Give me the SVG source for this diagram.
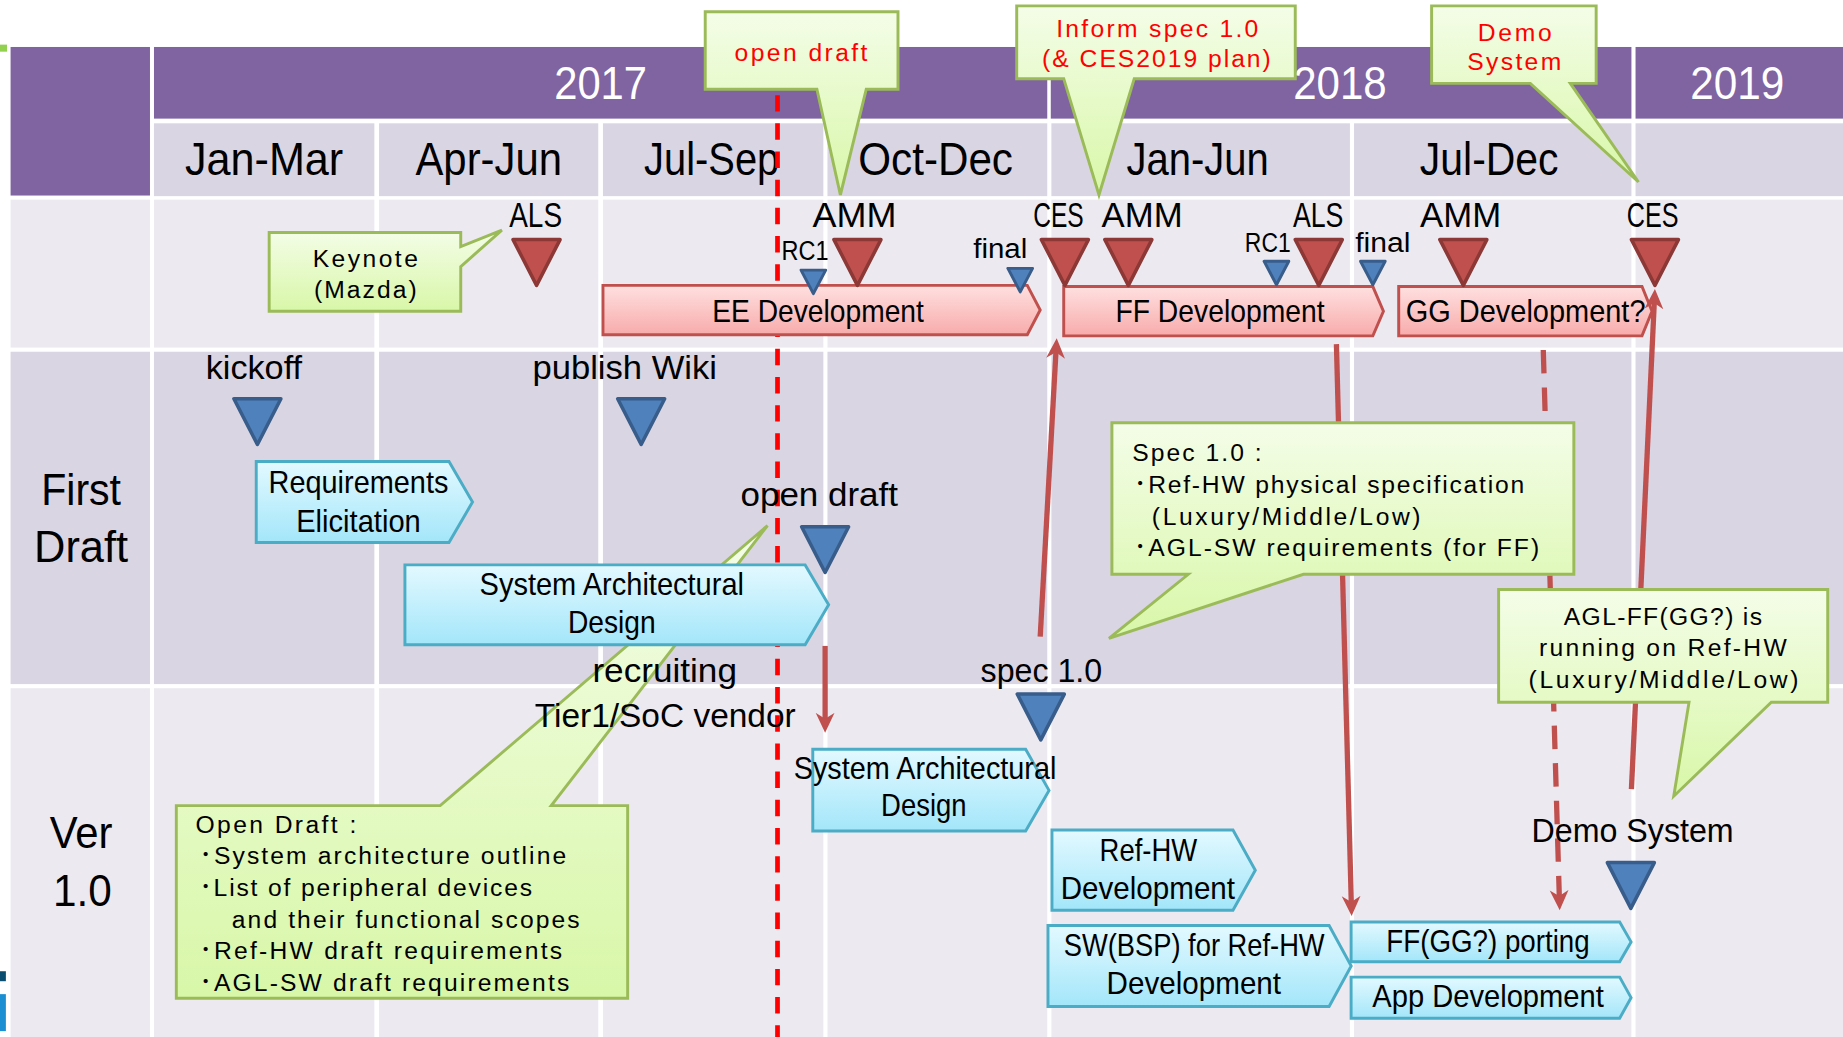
<svg xmlns="http://www.w3.org/2000/svg" xmlns:xlink="http://www.w3.org/1999/xlink" width="1843" height="1037" viewBox="0 0 1843 1037">
<defs>
<style>
text{font-family:"Liberation Sans","Noto Sans CJK JP",sans-serif;fill:#000}
.hdr{fill:#8064A2}
.cd{fill:#D9D5E3}
.cl{fill:#ECEAF0}
.yr{font-size:39px;fill:#fff;text-anchor:middle}
.q{font-size:39px;text-anchor:middle}
.rl{font-size:38px;text-anchor:middle}
.ms{font-size:30px;text-anchor:middle}
.sm{font-size:24px;text-anchor:middle}
.lb{font-size:29px;text-anchor:middle}
.bx{font-size:26px;text-anchor:middle}
.dv{font-size:26.5px;text-anchor:middle}
.cr{font-size:21px;fill:#FF0000;text-anchor:middle}
.cc{font-size:21px;text-anchor:middle}
.cs{font-size:21px}
.tr{fill:#C0504D;stroke:#8C3836;stroke-width:3;stroke-linejoin:round}
.tb{fill:#4F81BD;stroke:#385D8A;stroke-width:3;stroke-linejoin:round}
.ts{fill:#4F81BD;stroke:#385D8A;stroke-width:2.5;stroke-linejoin:round}
.pink{fill:url(#gPink);stroke:#C0504D;stroke-width:2.5}
.cyan{fill:url(#gCyan);stroke:#4BACC6;stroke-width:2.5}
.call{fill:url(#gGreen);stroke:#9BBB59;stroke-width:2.5}
.conn{fill:none;stroke:#C0504D;stroke-width:4.5;marker-end:url(#ah)}
.dash{stroke-dasharray:20 12}
.od{fill:none;stroke:#FF0000;stroke-width:4;stroke-dasharray:14 10}
</style>
<linearGradient id="gPink" x1="0" y1="0" x2="0" y2="1"><stop offset="0" stop-color="#FFE0E0"/><stop offset="1" stop-color="#F8ABAB"/></linearGradient>
<linearGradient id="gCyan" x1="0" y1="0" x2="0" y2="1"><stop offset="0" stop-color="#E3F9FF"/><stop offset="1" stop-color="#A3E6FA"/></linearGradient>
<linearGradient id="gGreen" x1="0" y1="0" x2="0" y2="1"><stop offset="0" stop-color="#F4FDE8"/><stop offset="1" stop-color="#D8F7A8"/></linearGradient>
<marker id="ah" markerUnits="userSpaceOnUse" markerWidth="18" markerHeight="18" viewBox="0 0 18 18" refX="11" refY="9" orient="auto"><path d="M0,1 L17,9 L0,17 L5,9 Z" fill="#C0504D"/></marker>
<path id="tri" d="M-20,0 H20 L0,39 Z"/>
<path id="tris" d="M-10.5,0 H10.5 L0,20 Z"/>
</defs>
<rect width="1843" height="1037" fill="#FFFFFF"/>
<g transform="scale(1.17538,1.17441)">
<g id="grid">
<rect x="0" y="38" width="6" height="6" fill="#92D050"/>
<rect x="0" y="827" width="5" height="8.5" fill="#0B4D6E"/>
<rect x="0" y="846.5" width="5" height="31.5" fill="#1B8FD2"/>
<rect class="hdr" x="9" y="40" width="118.6" height="126.5"/>
<rect class="hdr" x="131" y="40" width="760" height="61"/>
<rect class="hdr" x="894" y="40" width="494" height="61"/>
<rect class="hdr" x="1391.5" y="40" width="176.5" height="61"/>
<rect class="cd" x="131" y="105" width="187.5" height="62"/>
<rect class="cd" x="322.5" y="105" width="186.5" height="62"/>
<rect class="cd" x="513" y="105" width="187.5" height="62"/>
<rect class="cd" x="704" y="105" width="187" height="62"/>
<rect class="cd" x="894.5" y="105" width="254" height="62"/>
<rect class="cd" x="1152" y="105" width="236" height="62"/>
<rect class="cd" x="1391.5" y="105" width="176.5" height="62"/>
<rect class="cl" x="9" y="170" width="118.6" height="126"/>
<rect class="cl" x="131" y="170" width="187.5" height="126"/>
<rect class="cl" x="322.5" y="170" width="186.5" height="126"/>
<rect class="cl" x="513" y="170" width="187.5" height="126"/>
<rect class="cl" x="704" y="170" width="187" height="126"/>
<rect class="cl" x="894.5" y="170" width="254" height="126"/>
<rect class="cl" x="1152" y="170" width="236" height="126"/>
<rect class="cl" x="1391.5" y="170" width="176.5" height="126"/>
<rect class="cd" x="9" y="299.5" width="118.6" height="283"/>
<rect class="cd" x="131" y="299.5" width="187.5" height="283"/>
<rect class="cd" x="322.5" y="299.5" width="186.5" height="283"/>
<rect class="cd" x="513" y="299.5" width="187.5" height="283"/>
<rect class="cd" x="704" y="299.5" width="187" height="283"/>
<rect class="cd" x="894.5" y="299.5" width="254" height="283"/>
<rect class="cd" x="1152" y="299.5" width="236" height="283"/>
<rect class="cd" x="1391.5" y="299.5" width="176.5" height="283"/>
<rect class="cl" x="9" y="586" width="118.6" height="297"/>
<rect class="cl" x="131" y="586" width="187.5" height="297"/>
<rect class="cl" x="322.5" y="586" width="186.5" height="297"/>
<rect class="cl" x="513" y="586" width="187.5" height="297"/>
<rect class="cl" x="704" y="586" width="187" height="297"/>
<rect class="cl" x="894.5" y="586" width="254" height="297"/>
<rect class="cl" x="1152" y="586" width="236" height="297"/>
<rect class="cl" x="1391.5" y="586" width="176.5" height="297"/>
<text class="yr" x="511" y="84" textLength="79" lengthAdjust="spacingAndGlyphs">2017</text>
<text class="yr" x="1140" y="84" textLength="79.6" lengthAdjust="spacingAndGlyphs">2018</text>
<text class="yr" x="1478" y="84" textLength="80" lengthAdjust="spacingAndGlyphs">2019</text>
<text class="q" x="224.7" y="149" textLength="134.7" lengthAdjust="spacingAndGlyphs">Jan-Mar</text>
<text class="q" x="415.8" y="149" textLength="124.7" lengthAdjust="spacingAndGlyphs">Apr-Jun</text>
<text class="q" x="605.5" y="149" textLength="115" lengthAdjust="spacingAndGlyphs">Jul-Sep</text>
<text class="q" x="796" y="149" textLength="131.6" lengthAdjust="spacingAndGlyphs">Oct-Dec</text>
<text class="q" x="1019" y="149" textLength="121" lengthAdjust="spacingAndGlyphs">Jan-Jun</text>
<text class="q" x="1267" y="149" textLength="118" lengthAdjust="spacingAndGlyphs">Jul-Dec</text>
<text class="rl" x="69" y="429.6" textLength="68" lengthAdjust="spacingAndGlyphs">First</text>
<text class="rl" x="69" y="478.7" textLength="80" lengthAdjust="spacingAndGlyphs">Draft</text>
<text class="rl" x="69" y="721.7" textLength="53.5" lengthAdjust="spacingAndGlyphs">Ver</text>
<text class="rl" x="70" y="771.4" textLength="50" lengthAdjust="spacingAndGlyphs">1.0</text>
</g>
<g id="open-draft-line">
<line class="od" x1="661.5" y1="81" x2="661.5" y2="883"/>
</g>
<g id="callout-open-draft-detail">
<path class="call" d="M150,686 H374.5 L653,447.5 L469,686 H534 V850 H150 Z"/>
<text class="cs" x="166.3" y="709" textLength="136.8" lengthAdjust="spacing">Open Draft :</text>
<text class="cs" x="169.7" y="736" textLength="312" lengthAdjust="spacing">･System architecture outline</text>
<text class="cs" x="169.7" y="763" textLength="283" lengthAdjust="spacing">･List of peripheral devices</text>
<text class="cs" x="197.2" y="790" textLength="296" lengthAdjust="spacing">and their functional scopes</text>
<text class="cs" x="169.7" y="816.8" textLength="308.6" lengthAdjust="spacing">･Ref-HW draft requirements</text>
<text class="cs" x="169.7" y="843.7" textLength="314.6" lengthAdjust="spacing">･AGL-SW draft requirements</text>
</g>
<g id="ee-dev">
<path class="pink" d="M513,243 H874 L885,264 L874,285 H513 Z"/>
<text class="dv" x="696" y="274" textLength="180" lengthAdjust="spacingAndGlyphs">EE Development</text>
</g>
<g id="ff-dev">
<path class="pink" d="M905,244 H1168 L1177,265 L1168,286 H905 Z"/>
<text class="dv" x="1038" y="274" textLength="178" lengthAdjust="spacingAndGlyphs">FF Development</text>
</g>
<g id="gg-dev">
<path class="pink" d="M1190,244 H1397 L1405.5,265 L1397,286 H1190 Z"/>
<text class="dv" x="1298" y="274" textLength="204" lengthAdjust="spacingAndGlyphs">GG Development?</text>
</g>
<g id="req-elicitation">
<path class="cyan" d="M218,393 H382 L402,427.5 L382,462 H218 Z"/>
<text class="bx" x="305" y="420" textLength="153" lengthAdjust="spacingAndGlyphs">Requirements</text>
<text class="bx" x="305" y="453" textLength="106" lengthAdjust="spacingAndGlyphs">Elicitation</text>
</g>
<g id="sys-arch-1">
<path class="cyan" d="M344.5,481 H685 L705,515 L685,549 H344.5 Z"/>
<text class="bx" x="520.5" y="507" textLength="225" lengthAdjust="spacingAndGlyphs">System Architectural</text>
<text class="bx" x="520.5" y="538.7" textLength="74.7" lengthAdjust="spacingAndGlyphs">Design</text>
</g>
<g id="sys-arch-2">
<path class="cyan" d="M691.5,638 H872.6 L892.5,673 L872.6,707.6 H691.5 Z"/>
<text class="bx" x="787" y="663.6" textLength="223.5" lengthAdjust="spacingAndGlyphs">System Architectural</text>
<text class="bx" x="786" y="695" textLength="72.7" lengthAdjust="spacingAndGlyphs">Design</text>
</g>
<g id="ref-hw-dev">
<path class="cyan" d="M895,706.7 H1049 L1068,741 L1049,775 H895 Z"/>
<text class="bx" x="977" y="733" textLength="83" lengthAdjust="spacingAndGlyphs">Ref-HW</text>
<text class="bx" x="976.6" y="765.7" textLength="148.3" lengthAdjust="spacingAndGlyphs">Development</text>
</g>
<g id="sw-bsp-dev">
<path class="cyan" d="M891.6,788 H1130.8 L1149.6,822.5 L1130.8,857 H891.6 Z"/>
<text class="bx" x="1016" y="814" textLength="222" lengthAdjust="spacingAndGlyphs">SW(BSP) for Ref-HW</text>
<text class="bx" x="1015.7" y="846.5" textLength="148.4" lengthAdjust="spacingAndGlyphs">Development</text>
</g>
<g id="ff-porting">
<path class="cyan" d="M1149.5,785 H1378 L1387.7,802 L1378,819 H1149.5 Z"/>
<text class="bx" x="1266" y="810.5" textLength="173" lengthAdjust="spacingAndGlyphs">FF(GG?) porting</text>
</g>
<g id="app-dev">
<path class="cyan" d="M1149.5,832 H1378 L1387.7,849.5 L1378,867 H1149.5 Z"/>
<text class="bx" x="1266" y="857.6" textLength="197" lengthAdjust="spacingAndGlyphs">App Development</text>
</g>
<g id="connectors">
<line class="conn" x1="702" y1="550" x2="702" y2="618"/>
<line class="conn" x1="885" y1="542" x2="898.7" y2="294"/>
<line class="conn" x1="1137" y1="293" x2="1149.8" y2="774"/>
<line class="conn dash" x1="1313" y1="298" x2="1326.8" y2="769"/>
<line class="conn" x1="1388" y1="672" x2="1407.7" y2="252"/>
</g>
<g id="callout-open-draft">
<path class="call" d="M600,10 H764 V76 H737 L715,166 L695,76 H600 Z"/>
<text class="cr" x="681.5" y="51.6" textLength="113" lengthAdjust="spacing">open draft</text>
</g>
<g id="callout-inform">
<path class="call" d="M865,5 H1102 V67 H965 L935,166 L905,67 H865 Z"/>
<text class="cr" x="984.6" y="31.2" textLength="172" lengthAdjust="spacing">Inform spec 1.0</text>
<text class="cr" x="983.9" y="56.7" textLength="194.6" lengthAdjust="spacing">(&amp; CES2019 plan)</text>
</g>
<g id="callout-demo">
<path class="call" d="M1218,5 H1358 V71 H1336 L1394,155 L1302,71 H1218 Z"/>
<text class="cr" x="1288.7" y="34.6" textLength="63" lengthAdjust="spacing">Demo</text>
<text class="cr" x="1288.3" y="60" textLength="80" lengthAdjust="spacing">System</text>
</g>
<g id="callout-keynote">
<path class="call" d="M229,198 H392 V210 L427,196 L392,227 V265 H229 Z"/>
<text class="cc" x="310.8" y="227" textLength="89.5" lengthAdjust="spacing">Keynote</text>
<text class="cc" x="310.8" y="253.8" textLength="87.5" lengthAdjust="spacing">(Mazda)</text>
</g>
<g id="callout-spec">
<path class="call" d="M946,360 H1339 V489 H1109 L943.5,543.6 L1011,489 H946 Z"/>
<text class="cs" x="963.4" y="392.8" textLength="110" lengthAdjust="spacing">Spec 1.0 :</text>
<text class="cs" x="964.8" y="419.7" textLength="332" lengthAdjust="spacing">･Ref-HW physical specification</text>
<text class="cs" x="980" y="446.7" textLength="228.6" lengthAdjust="spacing">(Luxury/Middle/Low)</text>
<text class="cs" x="964.8" y="473.6" textLength="344.7" lengthAdjust="spacing">･AGL-SW requirements (for FF)</text>
</g>
<g id="callout-agl">
<path class="call" d="M1275,502 H1555 V598 H1507 L1424,678 L1437,598 H1275 Z"/>
<text class="cc" x="1414.8" y="531.8" textLength="168.6" lengthAdjust="spacing">AGL-FF(GG?) is</text>
<text class="cc" x="1414.7" y="558.7" textLength="210.8" lengthAdjust="spacing">running on Ref-HW</text>
<text class="cc" x="1415.3" y="585.6" textLength="229.6" lengthAdjust="spacing">(Luxury/Middle/Low)</text>
</g>
<g id="ms-als-2017">
<use href="#tri" class="tr" x="456.5" y="204"/>
<text class="ms" x="455.7" y="193" textLength="45" lengthAdjust="spacingAndGlyphs">ALS</text>
</g>
<g id="ms-amm-2017">
<use href="#tri" class="tr" x="729.5" y="204"/>
<text class="ms" x="727" y="193" textLength="71.4" lengthAdjust="spacingAndGlyphs">AMM</text>
</g>
<g id="ms-ces-2018">
<use href="#tri" class="tr" x="906" y="204"/>
<text class="ms" x="900.5" y="193" textLength="43" lengthAdjust="spacingAndGlyphs">CES</text>
</g>
<g id="ms-amm-2018a">
<use href="#tri" class="tr" x="960" y="204"/>
<text class="ms" x="971.7" y="193" textLength="69" lengthAdjust="spacingAndGlyphs">AMM</text>
</g>
<g id="ms-als-2018">
<use href="#tri" class="tr" x="1122" y="204"/>
<text class="ms" x="1121.5" y="193" textLength="43" lengthAdjust="spacingAndGlyphs">ALS</text>
</g>
<g id="ms-amm-2018b">
<use href="#tri" class="tr" x="1245" y="204"/>
<text class="ms" x="1242.7" y="193" textLength="69" lengthAdjust="spacingAndGlyphs">AMM</text>
</g>
<g id="ms-ces-2019">
<use href="#tri" class="tr" x="1408" y="204"/>
<text class="ms" x="1406" y="193" textLength="44" lengthAdjust="spacingAndGlyphs">CES</text>
</g>
<g id="ms-rc1-ee">
<use href="#tris" class="ts" x="692" y="230"/>
<text class="sm" x="685" y="221" textLength="40" lengthAdjust="spacingAndGlyphs">RC1</text>
</g>
<g id="ms-final-ee">
<use href="#tris" class="ts" x="868" y="228.5"/>
<text class="sm" x="851" y="220" textLength="46" lengthAdjust="spacingAndGlyphs">final</text>
</g>
<g id="ms-rc1-ff">
<use href="#tris" class="ts" x="1086" y="222.5"/>
<text class="sm" x="1078.6" y="215" textLength="39" lengthAdjust="spacingAndGlyphs">RC1</text>
</g>
<g id="ms-final-ff">
<use href="#tris" class="ts" x="1168" y="222.5"/>
<text class="sm" x="1176.5" y="215" textLength="47" lengthAdjust="spacingAndGlyphs">final</text>
</g>
<g id="ms-kickoff">
<use href="#tri" class="tb" x="219" y="339.5"/>
<text class="lb" x="216" y="323" textLength="82" lengthAdjust="spacingAndGlyphs">kickoff</text>
</g>
<g id="ms-publish-wiki">
<use href="#tri" class="tb" x="545.5" y="339.5"/>
<text class="lb" x="531.5" y="323" textLength="157" lengthAdjust="spacingAndGlyphs">publish Wiki</text>
</g>
<g id="ms-open-draft">
<use href="#tri" class="tb" x="702" y="448.5"/>
<text class="lb" x="697" y="431" textLength="134" lengthAdjust="spacingAndGlyphs">open draft</text>
</g>
<g id="ms-spec">
<use href="#tri" class="tb" x="885.5" y="591"/>
<text class="lb" x="886" y="581" textLength="103.5" lengthAdjust="spacingAndGlyphs">spec 1.0</text>
</g>
<g id="ms-demo">
<use href="#tri" class="tb" x="1387.5" y="734.5"/>
<text class="lb" x="1389" y="717" textLength="172" lengthAdjust="spacingAndGlyphs">Demo System</text>
</g>
<g id="label-recruiting">
<text class="lb" x="565.5" y="581" textLength="123" lengthAdjust="spacingAndGlyphs">recruiting</text>
<text class="lb" x="566" y="619" textLength="222" lengthAdjust="spacingAndGlyphs">Tier1/SoC vendor</text>
</g>
</g>
</svg>
